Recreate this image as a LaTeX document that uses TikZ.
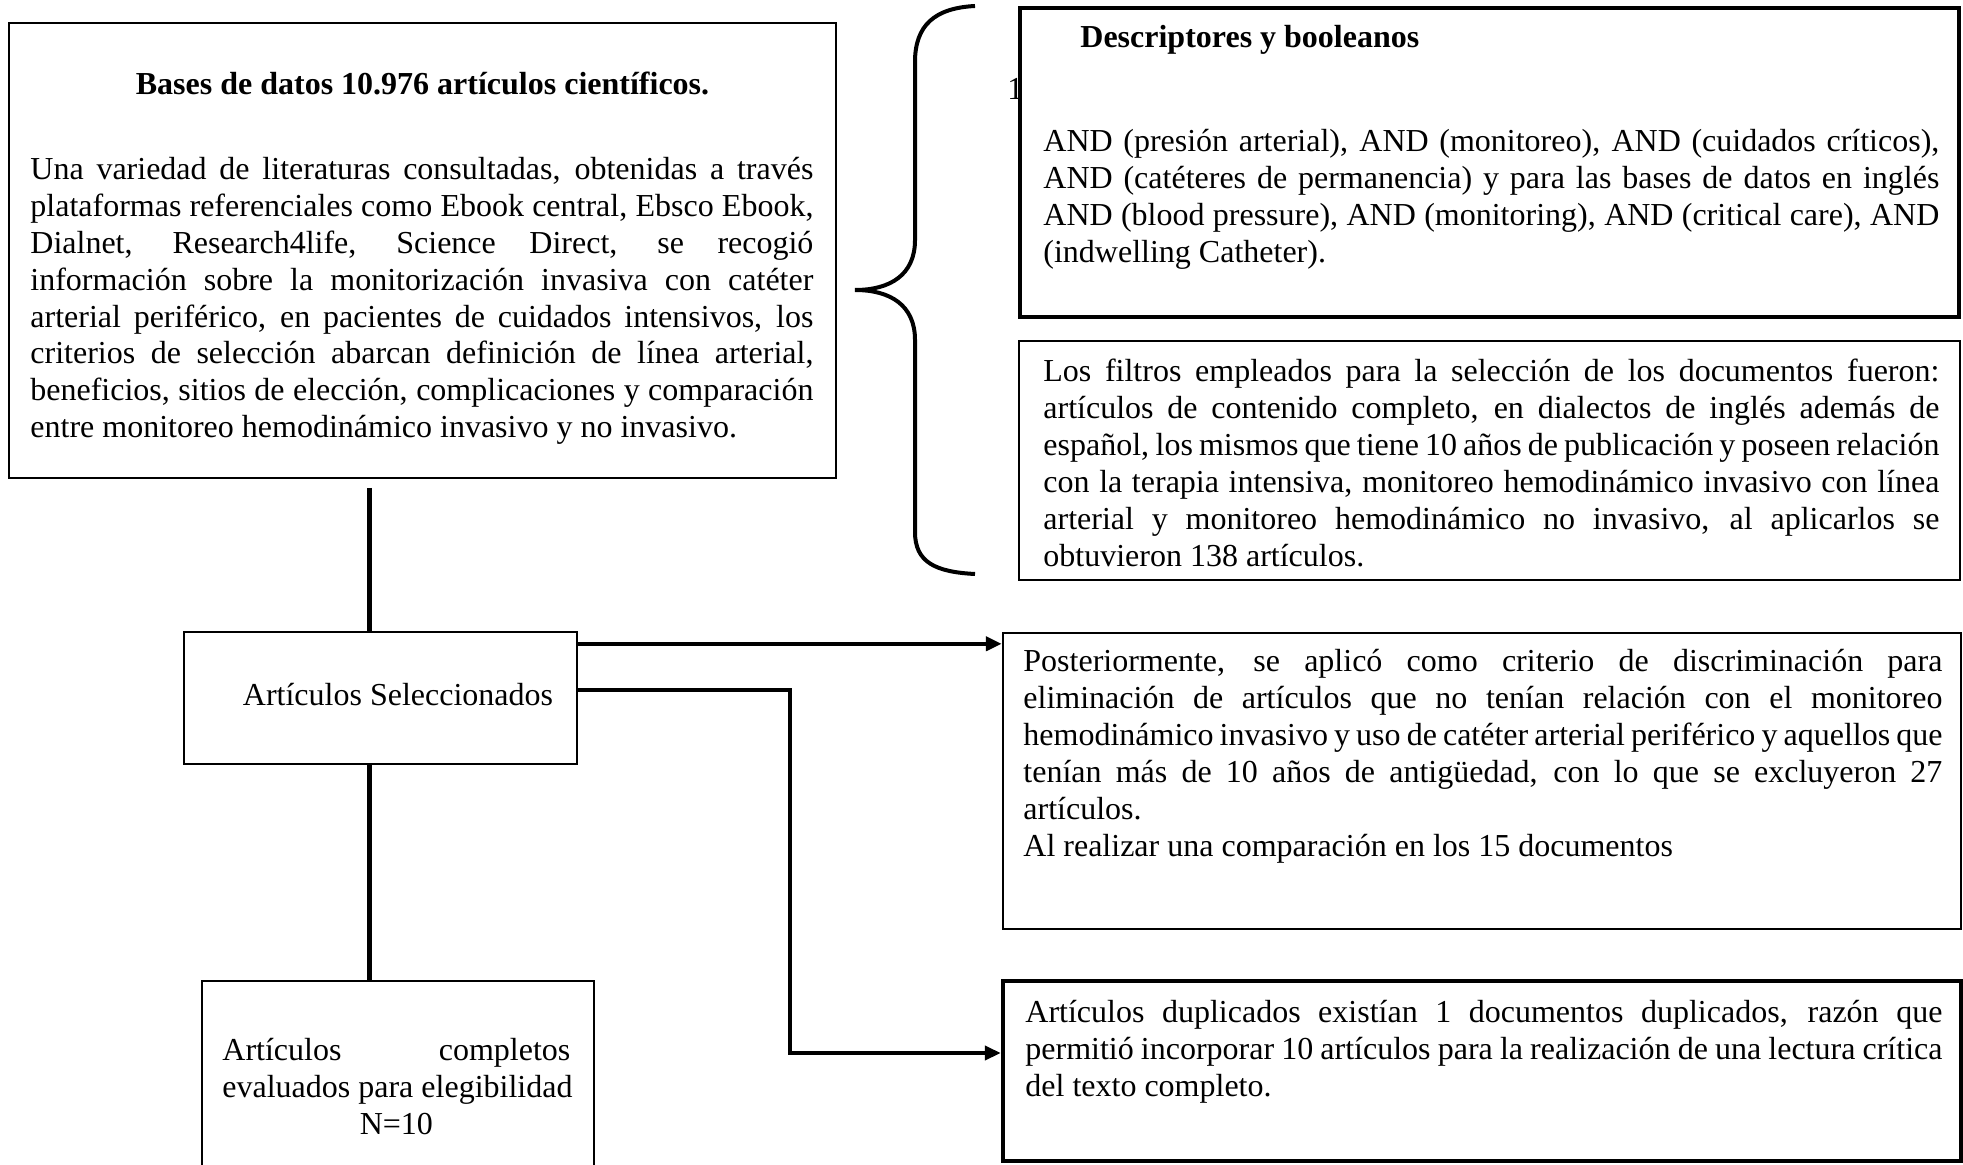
\documentclass[tikz,border=0pt]{standalone}
\usepackage{fontspec}
\setmainfont{Liberation Serif}
\usetikzlibrary{arrows.meta}

\begin{document}
\begin{tikzpicture}[x=0.5pt,y=-0.5pt,>={Triangle[length=8pt,width=7pt]},
  box/.style={draw,line width=1.2pt,fill=white,inner sep=0pt},
  txt/.style={anchor=base west,inner sep=0pt,align=justify,
              font=\fontsize{16}{18.5}\selectfont},
  titulo/.style={txt,font=\fontsize{16}{18.5}\selectfont\bfseries},
  link/.style={line width=2.5pt},
  arr/.style={->,line width=2pt}]
  \useasboundingbox (0,0) rectangle (1963,1165);
  \clip (0,0) rectangle (1963,1165);

  % bases de datos
  \node[box,line width=1.3pt,minimum width=413.5pt,minimum height=227.5pt]
       (bases) at (422.5,250.5){};
  \node[titulo,anchor=base] (basestit) at (422.5,95)
       {Bases de datos 10.976 artículos científicos.};
  \node[txt,text width=391.5pt,font=\fontsize{16}{18.4}\selectfont]
       (basestxt) at (30,180)
       {Una variedad de literaturas consultadas, obtenidas a través\linebreak
        plataformas referenciales como Ebook central, Ebsco Ebook,\linebreak
        Dialnet, Research4life, Science Direct, se recogió\linebreak
        información sobre la monitorización invasiva con catéter\linebreak
        arterial periférico, en pacientes de cuidados intensivos, los\linebreak
        criterios de selección abarcan definición de línea arterial,\linebreak
        beneficios, sitios de elección, complicaciones y comparación\linebreak
        entre monitoreo hemodinámico invasivo y no invasivo.};

  % llave
  \draw[line width=2pt] (975,6) .. controls (935,8) and (915,25) .. (915,62)
       -- (915,240) .. controls (915,275) and (890,290) .. (855,290)
       .. controls (890,290) and (915,305) .. (915,340)
       -- (915,532) .. controls (915,562) and (935,572) .. (975,574);

  % descriptores
  \node[txt] (uno) at (1007,100){1};
  \node[box,line width=2.2pt,minimum width=469.5pt,minimum height=154.5pt]
       (descr) at (1489.5,162.5){};
  \node[titulo] (descrtit) at (1080,48){Descriptores y booleanos};
  \node[txt,text width=448pt] (descrtxt) at (1043,152)
       {AND (presión arterial), AND (monitoreo), AND (cuidados críticos),\linebreak
        AND (catéteres de permanencia) y para las bases de datos en inglés\linebreak
        AND (blood pressure), AND (monitoring), AND (critical care), AND\linebreak
        (indwelling Catheter).};

  % filtros
  \node[box,minimum width=470.5pt,minimum height=119.5pt]
       (filtros) at (1489.5,460.5){};
  \node[txt,text width=448pt] (filtrostxt) at (1043,382)
       {Los filtros empleados para la selección de los documentos fueron:\linebreak
        artículos de contenido completo, en dialectos de inglés además de\linebreak
        español, los mismos que tiene 10 años de publicación y poseen relación\linebreak
        con la terapia intensiva, monitoreo hemodinámico invasivo con línea\linebreak
        arterial y monitoreo hemodinámico no invasivo, al aplicarlos se\linebreak
        obtuvieron 138 artículos.};

  % seleccionados
  \node[box,minimum width=196.5pt,minimum height=66pt] (selec) at (380.5,698){};
  \node[txt,anchor=base] (selectxt) at (398,705){Artículos Seleccionados};

  % elegibilidad
  \node[box,minimum width=196pt,minimum height=134.5pt] (eleg) at (398,1115.5){};
  \node[txt,text width=174pt] (elegtxt) at (222,1060)
       {Artículos completos\linebreak
        \mbox{evaluados para elegibilidad}\par
        \makebox[\linewidth]{N=10}};

  % posteriormente
  \node[box,minimum width=479pt,minimum height=148pt] (poster) at (1482,781){};
  \node[txt,text width=459.5pt] (postertxt) at (1023,671)
       {Posteriormente, se aplicó como criterio de discriminación para\linebreak
        eliminación de artículos que no tenían relación con el monitoreo\linebreak
        hemodinámico invasivo y uso de catéter arterial periférico y aquellos que\linebreak
        tenían más de 10 años de antigüedad, con lo que se excluyeron 27\linebreak
        artículos.\par
        Al realizar una comparación en los 15 documentos};

  % duplicados
  \node[box,line width=2.2pt,minimum width=479pt,minimum height=90pt]
       (dupl) at (1482,1071){};
  \node[txt,text width=458.5pt] (dupltxt) at (1025,1022)
       {Artículos duplicados existían 1 documentos duplicados, razón que\linebreak
        permitió incorporar 10 artículos para la realización de una lectura crítica\linebreak
        del texto completo.};

  % conectores
  \coordinate (bajoA) at (369,488);
  \draw[link] (bajoA) -- (bajoA |- selec.north);
  \draw[link] (selec.south -| bajoA) -- (bajoA |- eleg.north);
  \coordinate[yshift=-6.5pt] (sal1) at (selec.north east);
  \draw[arr] (sal1) -- (sal1 -| poster.west);
  \coordinate[yshift=-29.5pt] (sal2) at (selec.north east);
  \coordinate (codo) at (790,1053);
  \draw[arr] (sal2) -| (codo) -- (codo -| dupl.west);
\end{tikzpicture}
\end{document}
